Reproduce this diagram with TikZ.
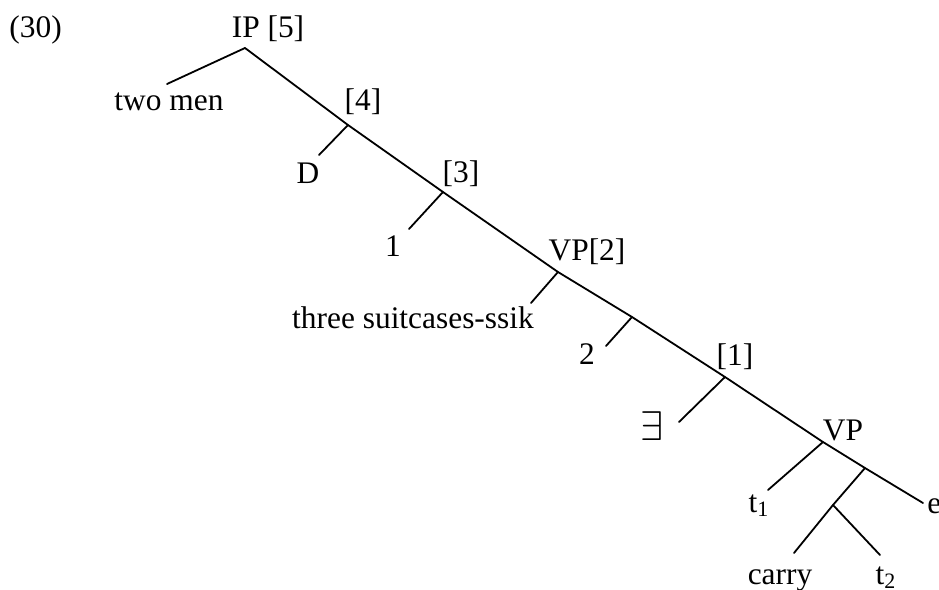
\documentclass[tikz,border=0pt]{standalone}
\usepackage{fontspec}
\setmainfont{Liberation Serif}

\begin{document}
\begin{tikzpicture}[x=0.5pt,y=-0.5pt,
  every node/.style={font=\fontsize{15.7}{18}\selectfont,inner sep=0pt,anchor=base},
  branch/.style={line width=0.9pt,line cap=round}]
  \useasboundingbox (0,0) rectangle (939,590);

  % Points on the spine
  \coordinate (ip) at (245,48);
  \coordinate (b4) at (348,125);
  \coordinate (b3) at (443,192);
  \coordinate (vp2) at (558,272);
  \coordinate (b2) at (632,317);
  \coordinate (b1) at (725,377);
  \coordinate (vp) at (823,442);
  \coordinate (vv) at (865,468);
  \coordinate (ve) at (923,503);

  % Ends of the side branches
  \coordinate (twoend) at (167,84);
  \coordinate (dend) at (319,155);
  \coordinate (oneend) at (409,229);
  \coordinate (threeend) at (531,303);
  \coordinate (twonend) at (606,346);
  \coordinate (exend) at (679,422);
  \coordinate (t1end) at (768,490);
  \coordinate (vlow) at (833,505);
  \coordinate (carryend) at (794,553);
  \coordinate (t2end) at (880,555);

  % Labels
  \node[anchor=base west] (ex) at (9,37) {(30)};
  \node (ipl) at (268,37) {IP [5]};
  \node (twomen) at (169,110) {two men};
  \node (l4) at (363,110) {[4]};
  \node (dl) at (308,183) {D};
  \node (l3) at (461,182) {[3]};
  \node (onel) at (393,256) {1};
  \node (vp2l) at (587,260) {VP[2]};
  \node (three) at (413,328) {three suitcases-ssik};
  \node (twol) at (587,364) {2};
  \node (l1) at (735,365) {[1]};
  \node (exl) at (652,440) {\fontsize{22}{24}\selectfont$\exists$};
  \node (vpl) at (843,440) {VP};
  \node (t1l) at (759,512) {t\textsubscript{1}};
  \node[anchor=base west] (el) at (927,513) {e};
  \node (carryl) at (780,584) {carry};
  \node (t2l) at (886,584) {t\textsubscript{2}};

  % Spine
  \draw[branch] (ip) -- (b4) -- (b3) -- (vp2) -- (b2) -- (b1) -- (vp) -- (vv) -- (ve);

  % Side branches
  \draw[branch] (ip) -- (twoend);
  \draw[branch] (b4) -- (dend);
  \draw[branch] (b3) -- (oneend);
  \draw[branch] (vp2) -- (threeend);
  \draw[branch] (b2) -- (twonend);
  \draw[branch] (b1) -- (exend);
  \draw[branch] (vp) -- (t1end);
  \draw[branch] (vv) -- (vlow);
  \draw[branch] (vlow) -- (carryend);
  \draw[branch] (vlow) -- (t2end);
\end{tikzpicture}
\end{document}
